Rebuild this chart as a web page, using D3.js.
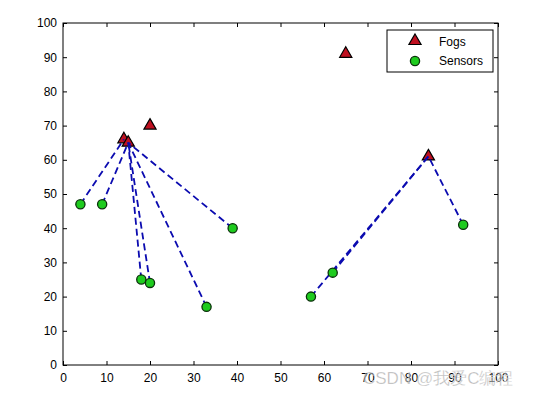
<!DOCTYPE html>
<html>
<head>
<meta charset="utf-8">
<script src="https://cdn.jsdelivr.net/npm/d3@7"></script>
<style>
body { margin: 0; background: #fff; }
text { font-family: "Liberation Sans", Arial, sans-serif; }
</style>
</head>
<body>
<div id="chart"></div>
<script>
var fogX = [14, 15, 20, 65, 84];
var fogY = [66, 65, 70, 91, 61];
var sensorX = [4, 9, 18, 20, 33, 39, 57, 62, 92];
var sensorY = [47, 47, 25, 24, 17, 40, 20, 27, 41];
// which fog each sensor connects to (index into fog arrays)
var sensorFog = [0, 1, 1, 1, 1, 1, 4, 4, 4];
var ticks = [0, 10, 20, 30, 40, 50, 60, 70, 80, 90, 100];

var width = 537, height = 396;
var margin = {top: 23, right: 39, bottom: 31, left: 63};

var svg = d3.select("#chart").append("svg")
    .attr("width", width)
    .attr("height", height);

var x = d3.scaleLinear().domain([0, 100]).range([margin.left, width - margin.right]);
var y = d3.scaleLinear().domain([0, 100]).range([height - margin.bottom, margin.top]);

// axes with inward ticks on all sides
function styleAxis(g) {
    g.select(".domain").remove();
    g.selectAll("line").attr("stroke", "#000");
    g.selectAll("text").attr("font-size", 12).attr("fill", "#000");
}
svg.append("g")
    .attr("transform", "translate(0," + y(0) + ")")
    .call(d3.axisBottom(x).tickValues(ticks).tickSizeInner(-4).tickSizeOuter(0).tickPadding(8))
    .call(styleAxis);
svg.append("g")
    .attr("transform", "translate(0," + y(100) + ")")
    .call(d3.axisTop(x).tickValues(ticks).tickSizeInner(-4).tickSizeOuter(0).tickFormat(""))
    .call(styleAxis);
svg.append("g")
    .attr("transform", "translate(" + x(0) + ",0)")
    .call(d3.axisLeft(y).tickValues(ticks).tickSizeInner(-4).tickSizeOuter(0).tickPadding(6))
    .call(styleAxis);
svg.append("g")
    .attr("transform", "translate(" + x(100) + ",0)")
    .call(d3.axisRight(y).tickValues(ticks).tickSizeInner(-4).tickSizeOuter(0).tickFormat(""))
    .call(styleAxis);

svg.append("rect")
    .attr("x", x(0)).attr("y", y(100))
    .attr("width", x(100) - x(0)).attr("height", y(0) - y(100))
    .attr("fill", "none").attr("stroke", "#000").attr("stroke-width", 1);

var tri = d3.symbol().type(d3.symbolTriangle).size(64);

// fogs first, links are drawn over them
svg.append("g").selectAll("path")
    .data(fogX)
    .enter().append("path")
    .attr("d", tri)
    .attr("transform", function(d, i) { return "translate(" + x(d) + "," + y(fogY[i]) + ")"; })
    .attr("fill", "#bf1020")
    .attr("stroke", "#000")
    .attr("stroke-width", 1.2);

svg.append("g").selectAll("line")
    .data(sensorX)
    .enter().append("line")
    .attr("x1", function(d, i) { return x(d); })
    .attr("y1", function(d, i) { return y(sensorY[i]); })
    .attr("x2", function(d, i) { return x(fogX[sensorFog[i]]); })
    .attr("y2", function(d, i) { return y(fogY[sensorFog[i]]); })
    .attr("stroke", "#0b0bb0")
    .attr("stroke-width", 1.8)
    .attr("stroke-dasharray", "7,4");

svg.append("g").selectAll("circle")
    .data(sensorX)
    .enter().append("circle")
    .attr("cx", function(d) { return x(d); })
    .attr("cy", function(d, i) { return y(sensorY[i]); })
    .attr("r", 4.6)
    .attr("fill", "#1ecb1e")
    .attr("stroke", "#0a300a")
    .attr("stroke-width", 1.3);

// legend
var lg = svg.append("g").attr("transform", "translate(387,30)");
lg.append("rect")
    .attr("width", 106).attr("height", 42)
    .attr("fill", "#fff").attr("stroke", "#000");
lg.append("path").attr("d", tri)
    .attr("transform", "translate(28,11)")
    .attr("fill", "#bf1020").attr("stroke", "#000").attr("stroke-width", 1.2);
lg.append("circle")
    .attr("cx", 28).attr("cy", 31).attr("r", 4.6)
    .attr("fill", "#1ecb1e").attr("stroke", "#0a300a").attr("stroke-width", 1.3);
lg.append("text").attr("x", 52).attr("y", 16).attr("font-size", 12).text("Fogs");
lg.append("text").attr("x", 52).attr("y", 35).attr("font-size", 12).text("Sensors");

// watermark
svg.append("text")
    .attr("x", 363).attr("y", 384)
    .attr("font-size", 17)
    .attr("font-family", "'Noto Sans CJK SC', sans-serif")
    .attr("fill", "rgba(120,120,120,0.55)")
    .attr("stroke", "rgba(255,255,255,0.6)")
    .attr("stroke-width", 0.6)
    .text("CSDN @我爱C编程");
</script>
</body>
</html>
